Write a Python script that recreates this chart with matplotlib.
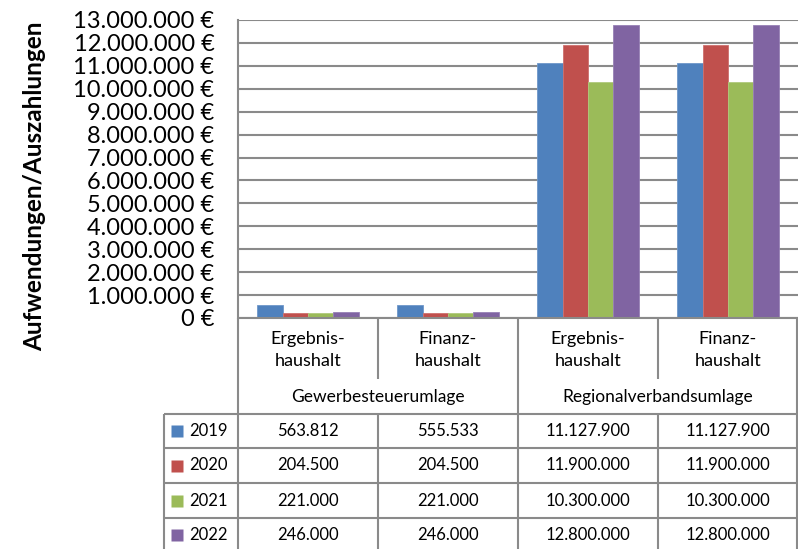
import numpy as np
import matplotlib
matplotlib.use("Agg")
import matplotlib.pyplot as plt
from matplotlib.ticker import FuncFormatter

plt.rcParams["font.family"] = ["Lato", "DejaVu Sans"]

categories = ["Ergebnis-\nhaushalt", "Finanz-\nhaushalt", "Ergebnis-\nhaushalt", "Finanz-\nhaushalt"]
groups = ["Gewerbesteuerumlage", "Regionalverbandsumlage"]
years = ["2019", "2020", "2021", "2022"]
v2019 = [563812, 555533, 11127900, 11127900]
v2020 = [204500, 204500, 11900000, 11900000]
v2021 = [221000, 221000, 10300000, 10300000]
v2022 = [246000, 246000, 12800000, 12800000]
series = [v2019, v2020, v2021, v2022]
colors = ["#4F81BD", "#C0504D", "#9BBB59", "#8064A2"]
edges = ["#6F97C9", "#CE706D", "#B0CA7D", "#9780B5"]

W, H = 798, 549
GRID = "#8a8a8a"


def fx(px):
    return px / W


def fy(py):
    return 1 - py / H


def de(v):
    return f"{v:,.0f}".replace(",", ".")


fig = plt.figure(figsize=(W / 100, H / 100), dpi=100)

# plot area in pixel terms: x 238..798, y 20..318
ax = fig.add_axes([fx(238), fy(318), fx(798) - fx(238), fy(20) - fy(318)])
x = np.arange(len(categories))
bw = 1 / 5.5
for i, vals in enumerate(series):
    ax.bar(x + (i - 1.5) * bw, vals, bw, color=colors[i], edgecolor=edges[i],
           linewidth=0.6, zorder=3)

ax.set_xlim(-0.5, 3.5)
ax.set_ylim(0, 13000000)
ax.set_yticks(np.arange(0, 13000001, 1000000))
ax.yaxis.set_major_formatter(FuncFormatter(lambda v, p: de(v) + " €"))
ax.tick_params(axis="y", length=0, pad=17, labelsize=17)
ax.set_xticks([])
ax.grid(axis="y", color=GRID, lw=1.5, zorder=0)
for s in ["top", "right", "bottom"]:
    ax.spines[s].set_visible(False)
ax.spines["left"].set_color(GRID)
ax.spines["left"].set_linewidth(1.5)

# table below the plot, drawn in pixel coordinates
tab = fig.add_axes([0, 0, 1, 1])
tab.set_xlim(0, W)
tab.set_ylim(H, 0)
tab.axis("off")

lk = dict(color=GRID, lw=1.5, solid_capstyle="butt")
col_edges = [238, 378, 518, 658, 798]
row_edges = [414, 448, 483, 518, 552]

tab.plot([238, 798], [318, 318], **lk)
tab.plot([238, 238], [318, 552], **lk)
tab.plot([518, 518], [318, 552], **lk)
tab.plot([797, 797], [318, 552], **lk)
for cx in [378, 658]:
    tab.plot([cx, cx], [318, 379], **lk)
    tab.plot([cx, cx], [414, 552], **lk)
for ry in row_edges:
    tab.plot([164, 798], [ry, ry], **lk)
tab.plot([164, 164], [414, 552], **lk)

fs = 12
centers = [(col_edges[j] + col_edges[j + 1]) / 2 for j in range(4)]
for j, lab in enumerate(categories):
    tab.text(centers[j], 350, lab, ha="center", va="center", fontsize=13,
             linespacing=1.5)
for g, lab in enumerate(groups):
    tab.text(col_edges[2 * g + 2] - 140, 397, lab, ha="center", va="center", fontsize=12.5)

for i, yr in enumerate(years):
    cy = (row_edges[i] + row_edges[i + 1]) / 2
    tab.plot(177, cy, marker="s", ms=8, color=colors[i], mec="none")
    tab.text(189, cy, yr, ha="left", va="center", fontsize=fs)
    for j in range(4):
        tab.text(centers[j], cy, de(series[i][j]), ha="center", va="center", fontsize=fs)

tab.text(35, 186, "Aufwendungen/Auszahlungen", rotation=90, ha="center", va="center",
         fontsize=17.5, fontweight="bold")

fig.savefig("out.png", dpi=100)
